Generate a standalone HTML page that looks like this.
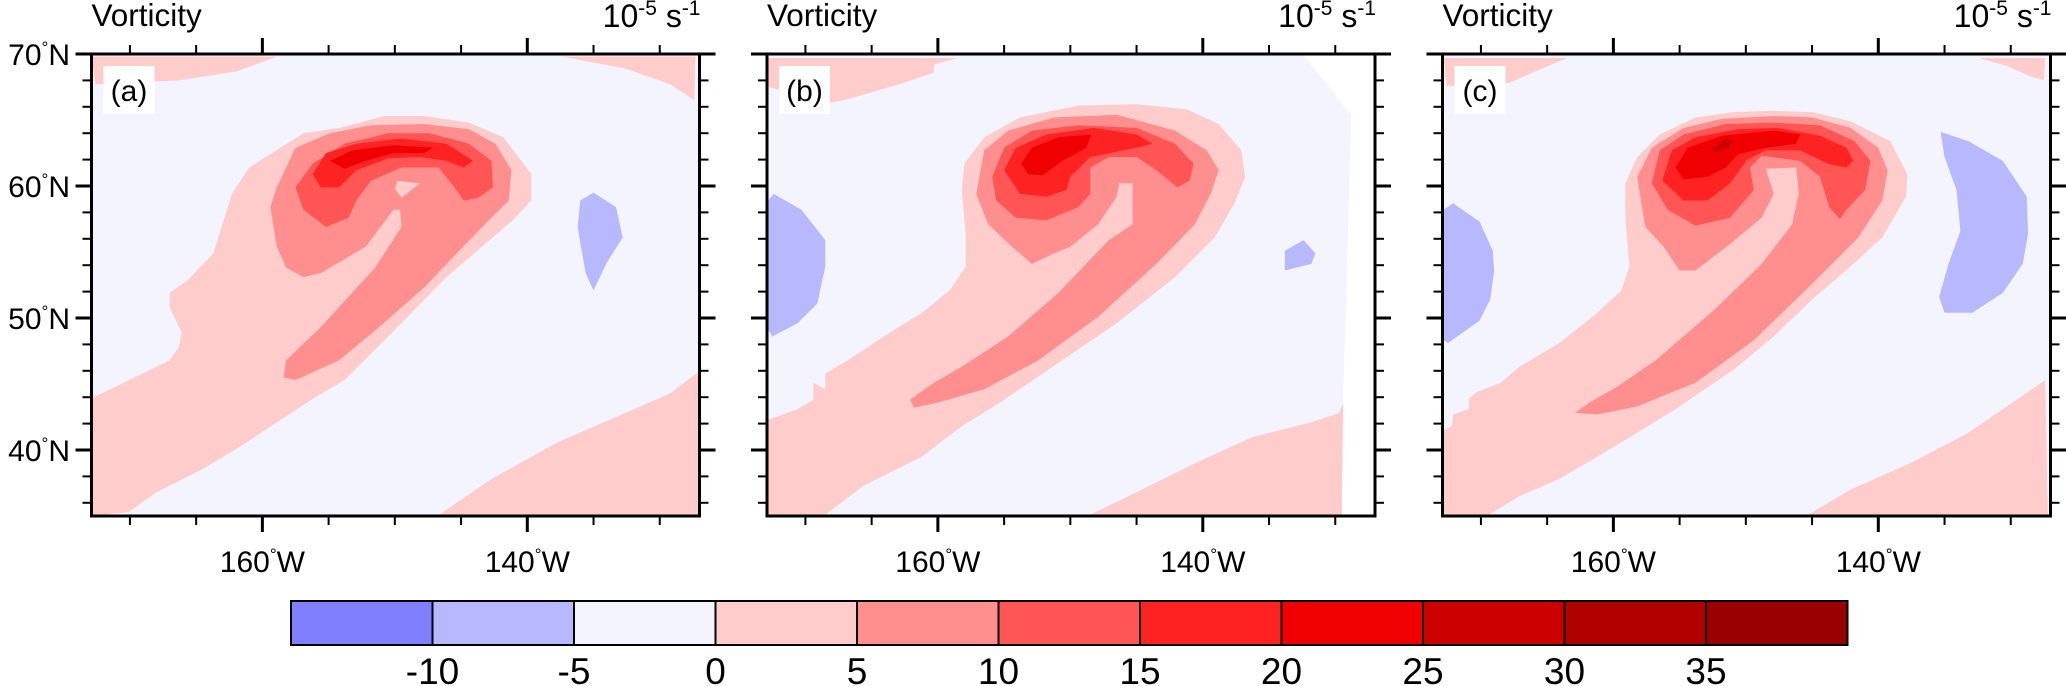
<!DOCTYPE html>
<html><head><meta charset="utf-8"><style>
html,body{margin:0;padding:0;background:#fff;width:2066px;height:686px;overflow:hidden}
svg{display:block;font-family:"Liberation Sans",Arial,sans-serif}
</style></head><body>
<svg id="fig" width="2066" height="686" viewBox="0 0 2066 686"></svg>
<script>
// ---- colorbar data ----
const levelColors = ["#8080ff","#b8b8ff","#f4f4ff","#ffcccc","#ff8f8f","#ff5555","#ff2222","#f00000","#cc0000","#b00000","#990000"];
const levelLabels = ["-10","-5","0","5","10","15","20","25","30","35"];
// ---- axis data ----
const latTicks = [40,50,60,70];
const lonTicks = [160,140];
const panelLabels = ["(a)","(b)","(c)"];
// contour polygons: level index into levelColors, points [lonW, latN]
const panelA = [
 {lv:3, pts:[[172.9,69.8],[158.9,69.8],[161.9,68.7],[166.3,68.0],[172.6,67.7]]},
 {lv:3, pts:[[172.7,44.0],[167.0,46.8],[166.3,47.8],[166.1,48.9],[167.0,50.8],[167.0,51.9],[165.6,52.9],[163.7,54.9],[162.3,59.4],[161.0,61.4],[156.9,64.0],[154.2,64.4],[150.8,65.3],[147.8,65.3],[144.4,64.8],[141.8,63.7],[139.7,60.9],[139.7,58.9],[141.1,57.4],[146.1,53.1],[150.2,48.9],[153.8,45.3],[156.3,43.8],[158.9,42.1],[161.6,40.3],[164.6,38.5],[168.0,36.8],[170.1,35.3],[172.9,35.0],[172.9,44.0]]},
 {lv:3, pts:[[146.8,35.0],[142.7,37.8],[137.7,40.6],[132.6,42.8],[129.2,44.3],[127.1,45.9],[127.1,35.0]]},
 {lv:3, pts:[[137.4,69.8],[132.6,68.9],[129.2,67.7],[127.4,66.5],[127.3,69.8]]},
 {lv:4, pts:[[158.9,59.9],[157.5,62.9],[154.9,64.0],[151.8,64.6],[147.8,64.7],[144.4,64.3],[142.4,63.2],[141.2,61.2],[141.4,58.9],[143.4,56.9],[147.8,52.3],[151.2,49.3],[154.2,46.8],[157.5,45.3],[158.4,45.5],[158.2,46.8],[155.6,49.3],[151.5,53.8],[149.5,56.9],[149.6,58.2],[150.1,58.2],[152.2,55.4],[155.6,53.4],[156.9,53.1],[158.2,53.8],[158.9,55.4],[159.4,58.4]]},
 {lv:5, pts:[[157.5,59.9],[156.2,61.7],[153.8,63.2],[150.5,64.0],[147.4,64.0],[144.4,63.2],[142.7,61.9],[142.6,59.9],[143.7,59.1],[144.8,58.9],[145.5,59.9],[146.7,61.4],[149.5,61.4],[151.8,60.4],[152.9,58.9],[153.5,57.6],[155.2,56.9],[156.9,58.2]]},
 {lv:3, pts:[[149.8,60.4],[148.1,60.2],[149.5,59.1],[150.0,59.8]]},
 {lv:6, pts:[[156.2,60.9],[155.2,62.5],[152.9,63.2],[149.5,63.6],[146.1,63.2],[144.1,61.9],[144.8,61.4],[146.1,61.9],[148.1,62.2],[150.5,62.1],[152.9,61.2],[154.2,59.9],[155.6,59.9]]},
 {lv:7, pts:[[154.9,61.9],[153.2,62.7],[150.1,63.1],[147.1,62.9],[147.8,62.5],[150.1,62.5],[152.2,61.9],[153.8,61.3]]},
 {lv:1, pts:[[136.0,58.9],[135.0,59.5],[133.3,58.4],[132.8,56.1],[134.0,54.2],[135.0,52.1],[135.6,53.4],[136.2,56.9]]}
];
const panelB = [
 {lv:3, pts:[[172.8,69.7],[158.5,69.7],[160.3,69.2],[160.3,68.6],[162.6,67.8],[165.0,67.1],[167.1,66.5],[168.2,66.3],[172.8,67.5]]},
 {lv:3, pts:[[172.8,35.1],[168.5,35.1],[165.6,37.3],[161.2,39.5],[158.2,41.8],[155.3,43.6],[150.9,46.6],[146.5,49.6],[142.1,53.1],[139.1,56.1],[137.6,58.7],[136.8,60.7],[137.1,62.7],[138.8,64.7],[141.2,65.8],[145.0,66.2],[149.4,66.1],[153.8,65.2],[156.5,63.7],[158.0,61.7],[158.2,59.7],[157.9,56.4],[157.9,53.9],[159.1,52.1],[161.2,50.4],[164.1,48.6],[166.8,46.8],[168.5,45.8],[168.5,44.6],[169.4,45.1],[169.4,43.8],[170.6,43.1],[172.8,42.3]]},
 {lv:3, pts:[[148.5,35.1],[145.0,36.8],[140.6,39.0],[136.2,41.0],[131.8,42.1],[129.7,42.8],[129.4,43.6],[129.5,35.1]]},
 {lv:4, pts:[[157.1,59.4],[156.5,62.7],[154.7,64.2],[151.2,65.2],[146.5,65.4],[142.1,64.2],[139.7,62.7],[138.8,61.2],[139.4,59.4],[140.6,57.1],[143.5,54.1],[147.9,50.1],[152.4,46.8],[156.5,44.6],[160.0,43.6],[161.8,43.2],[162.1,43.8],[160.3,45.1],[158.2,46.3],[154.7,48.6],[150.9,51.9],[147.1,55.9],[145.3,57.1],[145.3,60.2],[146.3,60.2],[146.5,59.2],[147.9,57.1],[150.0,55.4],[151.2,54.9],[152.9,54.1],[154.4,55.4],[156.2,57.1]]},
 {lv:5, pts:[[155.9,60.7],[155.0,62.9],[152.9,64.2],[149.4,64.6],[145.0,64.4],[142.1,63.2],[140.7,61.7],[141.0,60.4],[141.9,59.9],[143.5,61.2],[145.0,62.2],[147.1,62.2],[148.5,61.4],[148.5,59.4],[149.4,58.4],[151.8,57.4],[154.1,57.6],[155.6,58.9]]},
 {lv:6, pts:[[155.0,61.2],[154.1,62.9],[151.8,63.9],[148.2,64.4],[145.0,63.9],[143.8,63.2],[145.0,62.9],[148.5,62.2],[150.0,60.7],[150.3,59.7],[151.8,59.2],[153.8,59.4]]},
 {lv:7, pts:[[153.7,61.7],[152.9,62.9],[150.9,63.7],[148.4,63.9],[148.8,62.9],[150.6,61.9],[152.1,60.8],[153.2,60.9]]},
 {lv:1, pts:[[172.8,58.9],[172.4,59.4],[170.3,58.2],[168.5,55.9],[168.5,53.9],[169.1,51.1],[170.6,49.6],[172.5,48.6],[172.8,49.1]]},
 {lv:1, pts:[[133.8,55.1],[132.4,55.9],[131.5,54.9],[131.8,54.1],[132.6,53.9],[133.8,53.6]]}
];
const panelBMask = [[132.4,69.9],[127.0,69.9],[127.0,35.0],[129.5,35.0],[129.4,43.6],[128.8,65.4]];
const panelC = [
 {lv:3, pts:[[172.8,69.7],[163.5,69.7],[165.6,68.8],[167.9,67.8],[170.0,67.5],[172.6,67.6]]},
 {lv:3, pts:[[132.4,69.7],[127.4,69.7],[127.5,68.0],[128.5,68.3],[130.3,69.1]]},
 {lv:3, pts:[[172.8,35.1],[172.8,41.5],[172.2,41.8],[172.1,42.7],[170.9,43.1],[170.9,43.9],[170.3,44.4],[168.5,45.1],[167.1,46.3],[164.1,48.1],[161.2,50.4],[159.4,52.1],[158.8,53.9],[159.1,57.6],[159.1,60.2],[158.2,62.2],[156.5,63.9],[153.8,65.2],[150.9,65.6],[147.9,65.7],[145.0,65.6],[142.1,64.9],[139.1,63.4],[137.8,60.9],[137.9,59.2],[139.7,56.1],[142.1,53.9],[145.0,51.4],[147.9,48.6],[150.9,46.1],[155.3,43.1],[158.2,41.3],[161.2,39.5],[164.1,37.8],[167.1,36.5],[169.4,35.1]]},
 {lv:3, pts:[[145.3,35.1],[142.1,37.0],[137.6,39.0],[133.2,41.3],[130.3,43.3],[127.4,45.3],[127.2,35.1]]},
 {lv:4, pts:[[158.2,60.7],[157.1,62.9],[154.7,64.4],[151.8,65.1],[147.9,65.3],[145.0,65.2],[142.1,64.4],[140.0,62.9],[139.3,61.2],[139.7,58.9],[141.5,56.1],[145.0,52.6],[149.4,48.3],[153.8,45.1],[158.2,43.3],[161.2,42.7],[162.9,42.8],[161.8,43.6],[159.7,44.8],[156.8,46.8],[152.4,50.6],[148.8,54.1],[146.5,57.1],[146.0,59.4],[146.2,61.4],[148.5,61.3],[147.9,59.4],[148.8,57.6],[151.2,55.6],[153.8,53.6],[155.0,53.6],[156.2,55.4],[157.6,56.9]]},
 {lv:5, pts:[[157.1,60.2],[156.5,62.7],[154.7,63.9],[151.5,64.7],[147.9,64.8],[144.4,64.6],[141.8,63.4],[140.6,61.9],[141.0,59.7],[142.4,58.2],[142.9,57.5],[143.7,58.4],[144.4,60.7],[145.9,61.9],[148.8,62.3],[149.7,61.4],[149.4,59.7],[151.2,57.6],[153.8,57.0],[155.9,58.2]]},
 {lv:6, pts:[[156.3,60.4],[155.6,62.7],[153.8,63.7],[150.6,64.3],[147.6,64.4],[144.4,63.8],[142.4,62.9],[141.9,61.9],[142.4,61.4],[143.8,61.7],[145.9,62.7],[148.5,62.7],[149.9,62.0],[151.2,60.2],[152.9,58.9],[154.7,58.9]]},
 {lv:7, pts:[[155.3,61.4],[154.4,62.9],[151.8,63.8],[147.9,64.2],[145.9,63.9],[146.2,63.2],[148.5,62.9],[150.6,62.4],[151.5,61.4],[152.9,60.7],[154.7,60.5]]},
 {lv:8, pts:[[152.4,62.9],[151.5,63.6],[151.0,63.4],[151.3,62.9],[152.6,62.6]]},
 {lv:1, pts:[[172.8,58.2],[172.1,58.7],[170.1,57.3],[169.1,55.1],[169.0,53.6],[169.3,51.4],[170.1,49.8],[172.5,48.1],[172.8,48.3]]},
 {lv:1, pts:[[135.3,64.1],[133.2,63.4],[130.6,61.9],[128.8,59.2],[128.7,56.4],[129.1,54.1],[130.6,51.9],[132.9,50.4],[135.0,50.4],[135.4,51.6],[134.7,54.1],[133.8,56.6],[134.1,59.7],[135.0,62.2]]}
];
const panels = [panelA, panelB, panelC];

const NS = "http://www.w3.org/2000/svg";
const svg = document.getElementById("fig");
function mk(tag, attrs, parent){const e=document.createElementNS(NS,tag);for(const k in attrs)e.setAttribute(k,attrs[k]);(parent||svg).appendChild(e);return e;}

const LON_L = 172.9, LON_R = 127.0, LAT_T = 70, LAT_B = 35;
const PX0 = 91.5, PSTEP = 675.5, PW = 608, PT = 54, PH = 462;
function xScale(i, lon){ return PX0 + i*PSTEP + (LON_L - lon)/(LON_L - LON_R)*PW; }
function yScale(lat){ return PT + (LAT_T - lat)/(LAT_T - LAT_B)*PH; }

panels.forEach((polys, i) => {
  const x0 = xScale(i, LON_L), x1 = xScale(i, LON_R), y0 = yScale(LAT_T), y1 = yScale(LAT_B);
  const g = mk("g", {});
  
  
  const clipId = "clip" + i;
  const cp = mk("clipPath", {id: clipId}, g);
  mk("rect", {x:x0, y:y0, width:x1-x0, height:y1-y0}, cp);
  const bg = mk("rect", {x:x0, y:y0, width:x1-x0, height:y1-y0, fill:levelColors[2]}, g);
  
  
  const cg = mk("g", {"clip-path":"url(#"+clipId+")"}, g);
  polys.forEach(p => {
    const d = p.pts.map((pt,k)=>(k?"L":"M")+xScale(i,pt[0]).toFixed(1)+","+yScale(pt[1]).toFixed(1)).join("")+"Z";
    const path = mk("path", {d:d, fill:levelColors[p.lv], stroke:"none"}, cg);
    
    
  });
  if (i === 1) {
    const d = panelBMask.map((pt,k)=>(k?"L":"M")+xScale(i,pt[0]).toFixed(1)+","+yScale(pt[1]).toFixed(1)).join("")+"Z";
    const m = mk("path", {d:d, fill:"#ffffff"}, cg);
    
    
  }
  const lb = mk("rect", {x:x0+12, y:y0+12, width:51, height:48, fill:"#fff"}, g);
  
  
  const lt = mk("text", {x:x0+37.5, y:y0+47, "font-size":30, "text-anchor":"middle", fill:"#000"}, g);
  lt.textContent = panelLabels[i];
  
  
  const fr = mk("rect", {x:x0, y:y0, width:x1-x0, height:y1-y0, fill:"none", stroke:"#000", "stroke-width":3}, g);
  
  
  for (let lat = 36; lat <= 70; lat += 2) {
    const y = yScale(lat), major = lat % 10 === 0, L = major ? 16 : 9;
    mk("line", {x1:x0-L, y1:y, x2:x0, y2:y, stroke:"#000", "stroke-width":major?3:2}, g);
    mk("line", {x1:x1, y1:y, x2:x1+L, y2:y, stroke:"#000", "stroke-width":major?3:2}, g);
  }
  for (let lon = 170; lon >= 130; lon -= 5) {
    const x = xScale(i, lon), major = lon % 20 === 0, L = major ? 16 : 9;
    mk("line", {x1:x, y1:y0-L, x2:x, y2:y0, stroke:"#000", "stroke-width":major?3:2}, g);
    mk("line", {x1:x, y1:y1, x2:x, y2:y1+L, stroke:"#000", "stroke-width":major?3:2}, g);
  }
  lonTicks.forEach(lon => {
    const t = mk("text", {x:xScale(i,lon), y:572, "font-size":30, "text-anchor":"middle", fill:"#000"}, g);
    t.innerHTML = lon + '<tspan font-size="17" dy="-12">°</tspan><tspan dy="12">W</tspan>';
    
    
  });
  if (i === 0) {
    latTicks.forEach(lat => {
      const t = mk("text", {x:70, y:yScale(lat)+11, "font-size":30, "text-anchor":"end", fill:"#000"}, g);
      t.innerHTML = lat + '<tspan font-size="17" dy="-12">°</tspan><tspan dy="12">N</tspan>';
      
      
    });
  }
  const tt = mk("text", {x:x0, y:26, "font-size":31.5, fill:"#000"}, g);
  tt.textContent = "Vorticity";
  
  
  const ut = mk("text", {x:x1+1, y:27, "font-size":32, "text-anchor":"end", fill:"#000"}, g);
  ut.innerHTML = '10<tspan font-size="21" dy="-12">-5</tspan><tspan dy="12">  s</tspan><tspan font-size="21" dy="-12">-1</tspan>';
  ut.setAttribute('xml:space', 'preserve');
  
  
});

const CB_X = 291, CB_W = 141.5, CB_Y = 601, CB_H = 44;
const cb = mk("g", {});


levelColors.forEach((c, k) => {
  const r = mk("rect", {x:CB_X+k*CB_W, y:CB_Y, width:CB_W, height:CB_H, fill:c, stroke:"#000", "stroke-width":2}, cb);
  
  
});
levelLabels.forEach((s, k) => {
  const t = mk("text", {x:CB_X+(k+1)*CB_W, y:684, "font-size":37, "text-anchor":"middle", fill:"#000"}, cb);
  t.textContent = s;
  
  
});
</script>
</body></html>
